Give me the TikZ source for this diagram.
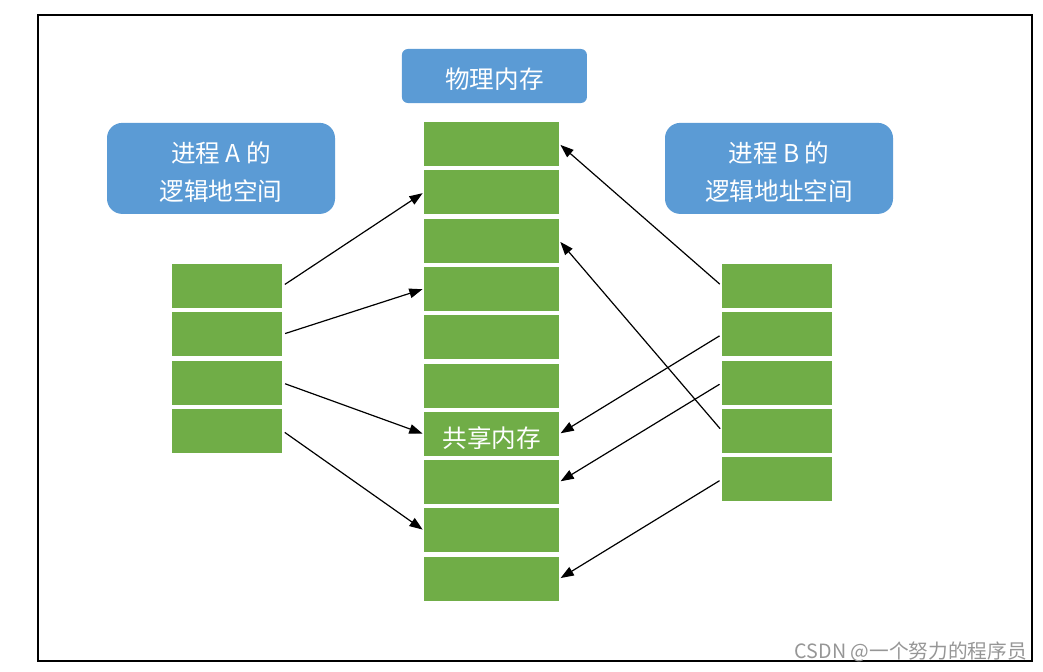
\documentclass[tikz,border=0pt]{standalone}
\usepackage{fontspec}
\setmainfont{Noto Sans CJK SC}
\usetikzlibrary{arrows.meta,positioning}

\definecolor{cellgreen}{RGB}{112,173,71}
\definecolor{boxblue}{RGB}{91,155,213}
\definecolor{markgray}{RGB}{150,150,150}

% text set a little lower, box size kept
\newcommand{\lowtext}[1]{\raisebox{-0.09cm}[\height][\depth]{#1}}

\tikzset{
	cell/.style={fill=cellgreen, minimum width=2.75cm, minimum height=1.1cm, inner sep=0pt, text=white},
	memcell/.style={cell, minimum width=3.375cm},
	titlebox/.style={fill=boxblue, rounded corners=0.15cm, minimum width=4.625cm, minimum height=1.35cm, text=white},
	procbox/.style={fill=boxblue, rounded corners=0.38cm, minimum width=5.7cm, minimum height=2.275cm, text=white, align=center},
	maparrow/.style={-{Triangle[length=0.33cm,width=0.24cm]}, line width=0.03cm, shorten <=2pt, shorten >=1pt}
}

\begin{document}
\begin{tikzpicture}[font=\fontsize{17.5}{27}\selectfont]
		\useasboundingbox (0,0) rectangle (26.075,-16.775);
		\draw[line width=0.035cm] (0.95,-0.375) rectangle (25.8,-16.525);
		\draw (12.36,-1.9) node [titlebox] (phys) {\lowtext{物理内存}};
		\draw (5.525,-4.21) node [procbox] (pa) {\lowtext{进程 A 的}\\\lowtext{逻辑地空间}};
		\draw (19.475,-4.21) node [procbox] (pb) {\lowtext{进程 B 的}\\\lowtext{逻辑地址空间}};
		\draw (12.29,-3.60) node [memcell] (m1) {};
		\draw (12.29,-4.81) node [memcell] (m2) {};
		\draw (12.29,-6.02) node [memcell] (m3) {};
		\draw (12.29,-7.22) node [memcell] (m4) {};
		\draw (12.29,-8.43) node [memcell] (m5) {};
		\draw (12.29,-9.64) node [memcell] (m6) {};
		\draw (12.29,-10.85) node [memcell] (m7) {\lowtext{共享内存}};
		\draw (12.29,-12.05) node [memcell] (m8) {};
		\draw (12.29,-13.26) node [memcell] (m9) {};
		\draw (12.29,-14.47) node [memcell] (m10) {};
		\draw (5.68,-7.15) node [cell] (a1) {};
		\draw (5.68,-8.36) node [cell] (a2) {};
		\draw (5.68,-9.57) node [cell] (a3) {};
		\draw (5.68,-10.77) node [cell] (a4) {};
		\draw (19.43,-7.15) node [cell] (b1) {};
		\draw (19.43,-8.36) node [cell] (b2) {};
		\draw (19.43,-9.57) node [cell] (b3) {};
		\draw (19.43,-10.77) node [cell] (b4) {};
		\draw (19.43,-11.98) node [cell] (b5) {};
		\draw (25.68,-16.3) node [anchor=east, text=markgray, font=\fontsize{14}{16}\selectfont, inner sep=0pt] (mark) {CSDN @一个努力的程序员};
		\path[maparrow]
			(a1.east) edge (m2.west)
			(a2.east) edge (m4.west)
			(a3.east) edge (m7.west)
			(a4.east) edge (m9.west)
			(b1.west) edge (m1.east)
			(b2.west) edge (m7.east)
			(b3.west) edge (m8.east)
			(b4.west) edge (m3.east)
			(b5.west) edge (m10.east);
	\end{tikzpicture}
\end{document}
